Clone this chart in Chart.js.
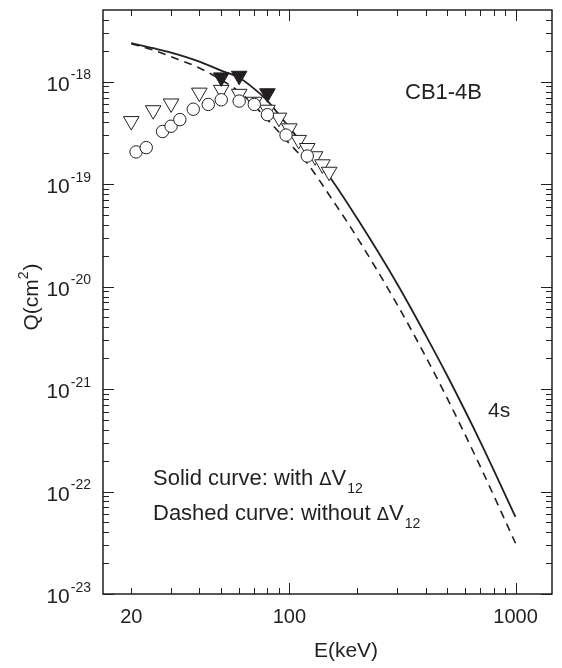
<!DOCTYPE html>
<html>
<head>
<meta charset="utf-8">
<script src="https://cdn.jsdelivr.net/npm/chart.js@4.4.1/dist/chart.umd.min.js"></script>
<style>
  html, body { margin: 0; padding: 0; background: #fff; }
  canvas { display: block; }
</style>
</head>
<body>
<canvas id="qChart" width="562" height="668"></canvas>
<script>
// theory curves, E in keV, Q in cm^2
const curveE = [20, 25, 30, 40, 50, 60, 70, 80, 100, 120, 150, 200, 300, 400, 500, 700, 1000];
const solidQ = [2.37e-18, 2.12e-18, 1.92e-18, 1.57e-18, 1.28e-18, 1.09e-18, 8.5e-19, 6.5e-19, 3.56e-19, 2.18e-19, 1.195e-19, 4.58e-20, 1.06e-20, 3.38e-21, 1.34e-21, 3.04e-22, 5.65e-23];
const dashedQ = [2.34e-18, 2.03e-18, 1.75e-18, 1.36e-18, 1.04e-18, 7.95e-19, 5.82e-19, 4.26e-19, 2.49e-19, 1.6e-19, 7.83e-20, 2.98e-20, 6.66e-21, 2.09e-21, 8.05e-22, 1.74e-22, 3.13e-23];

// experimental points
const openTriE = [20, 25, 30, 40, 50, 60, 70, 80, 90, 100, 110, 120, 130, 140, 150];
const openTriQ = [4.12e-19, 5.26e-19, 6.12e-19, 7.81e-19, 8.31e-19, 7.6e-19, 6.36e-19, 5.32e-19, 4.45e-19, 3.5e-19, 2.7e-19, 2.25e-19, 1.87e-19, 1.56e-19, 1.32e-19];
const filledTriE = [50, 60, 80];
const filledTriQ = [1.1e-18, 1.14e-18, 7.7e-19];
const circleE = [21, 23.3, 27.5, 30, 32.8, 37.6, 43.8, 50, 60, 70, 80, 96.7, 120];
const circleQ = [2.06e-19, 2.27e-19, 3.26e-19, 3.67e-19, 4.26e-19, 5.38e-19, 5.99e-19, 6.65e-19, 6.46e-19, 5.99e-19, 4.76e-19, 3.01e-19, 1.88e-19];

// axes
const xRange = [15, 1450];
const yRange = [1e-23, 5e-18];
const xMajorTicks = [100, 1000];
const xMinorTicks = [20, 30, 40, 50, 60, 70, 80, 90, 200, 300, 400, 500, 600, 700, 800, 900];
const xTickLabels = [20, 100, 1000];
const yExponents = [-23, -22, -21, -20, -19, -18];

const ink = '#231f20';
const fontFamily = '"Liberation Sans", Arial, sans-serif';

const pts = (xs, ys) => xs.map((e, i) => ({ x: e, y: ys[i] }));

// draws "base" with a superscript/subscript part, starting at x
function drawScript(ctx, x, y, base, baseSize, extra, extraSize, shift) {
    ctx.font = baseSize + 'px ' + fontFamily;
    ctx.fillText(base, x, y);
    const w = ctx.measureText(base).width;
    ctx.font = extraSize + 'px ' + fontFamily;
    ctx.fillText(extra, x + w + 1, y + shift);
    return w + 1 + ctx.measureText(extra).width;
}

const framePlugin = {
    id: 'frame',
    afterDatasetsDraw(chart) {
        const { ctx, chartArea: a, scales: { x, y } } = chart;
        ctx.save();
        ctx.strokeStyle = ink;
        ctx.fillStyle = ink;

        // box
        ctx.lineWidth = 1.5;
        ctx.strokeRect(a.left, a.top, a.right - a.left, a.bottom - a.top);

        const seg = (x1, y1, x2, y2) => {
            ctx.beginPath();
            ctx.moveTo(x1, y1);
            ctx.lineTo(x2, y2);
            ctx.stroke();
        };

        // x ticks, inward on bottom and top
        ctx.lineWidth = 1;
        xMajorTicks.forEach(v => {
            const px = Math.round(x.getPixelForValue(v)) + 0.5;
            seg(px, a.bottom, px, a.bottom - 11);
            seg(px, a.top, px, a.top + 11);
        });
        xMinorTicks.forEach(v => {
            const px = Math.round(x.getPixelForValue(v)) + 0.5;
            seg(px, a.bottom, px, a.bottom - 6);
            seg(px, a.top, px, a.top + 6);
        });

        // y ticks, inward on left and right
        yExponents.forEach(e => {
            const py = Math.round(y.getPixelForValue(Math.pow(10, e))) + 0.5;
            seg(a.left, py, a.left + 11, py);
            seg(a.right, py, a.right - 11, py);
            for (let m = 2; m <= 9; m++) {
                const v = m * Math.pow(10, e);
                if (v >= yRange[1]) break;
                const pm = Math.round(y.getPixelForValue(v)) + 0.5;
                seg(a.left, pm, a.left + 6, pm);
                seg(a.right, pm, a.right - 6, pm);
            }
        });

        // x tick labels
        ctx.textBaseline = 'alphabetic';
        ctx.textAlign = 'center';
        ctx.font = '20px ' + fontFamily;
        xTickLabels.forEach(v => {
            ctx.fillText(String(v), x.getPixelForValue(v), a.bottom + 29);
        });

        // y tick labels: 10^n
        ctx.textAlign = 'left';
        yExponents.forEach(e => {
            const py = y.getPixelForValue(Math.pow(10, e));
            ctx.font = '14px ' + fontFamily;
            const expW = ctx.measureText(String(e)).width;
            ctx.font = '21px ' + fontFamily;
            const baseW = ctx.measureText('10').width;
            const x0 = 91 - expW - 1 - baseW;
            drawScript(ctx, x0, py + 9, '10', 21, String(e), 14, -11.5);
        });

        // axis titles
        ctx.textAlign = 'center';
        ctx.font = '21px ' + fontFamily;
        ctx.fillText('E(keV)', 346, 657);

        ctx.save();
        ctx.translate(38, 297);
        ctx.rotate(-Math.PI / 2);
        ctx.textAlign = 'left';
        ctx.font = '21px ' + fontFamily;
        const qW = ctx.measureText('Q(cm').width;
        ctx.font = '14px ' + fontFamily;
        const sW = ctx.measureText('2').width;
        ctx.font = '21px ' + fontFamily;
        const pW = ctx.measureText(')').width;
        let tx = -(qW + sW + 1 + pW) / 2;
        ctx.fillText('Q(cm', tx, 0);
        ctx.font = '14px ' + fontFamily;
        ctx.fillText('2', tx + qW, -10);
        ctx.font = '21px ' + fontFamily;
        ctx.fillText(')', tx + qW + sW + 1, 0);
        ctx.restore();

        // annotations
        ctx.textAlign = 'left';
        ctx.font = '22px ' + fontFamily;
        ctx.fillText('CB1-4B', 405, 99);
        ctx.font = '21px ' + fontFamily;
        ctx.fillText('4s', 488, 417);

        const legendLine = (text, yb) => {
            ctx.font = '22px ' + fontFamily;
            ctx.fillText(text, 153, yb);
            let cx = 153 + ctx.measureText(text).width;
            ctx.font = '18px "DejaVu Sans", ' + fontFamily;
            ctx.fillText('\u0394', cx, yb);
            cx += ctx.measureText('\u0394').width;
            drawScript(ctx, cx, yb, 'V', 22, '12', 14, 8);
        };
        legendLine('Solid curve: with ', 485);
        legendLine('Dashed curve: without ', 520);

        ctx.restore();
    }
};

new Chart(document.getElementById('qChart'), {
    type: 'scatter',
    data: {
        datasets: [
            {
                label: 'circles',
                data: pts(circleE, circleQ),
                pointStyle: 'circle',
                pointRadius: 6.2,
                backgroundColor: '#fff',
                borderColor: ink,
                borderWidth: 1,
                order: 0
            },
            {
                label: 'filled triangles',
                data: pts(filledTriE, filledTriQ),
                pointStyle: 'triangle',
                pointRotation: 180,
                pointRadius: 9,
                backgroundColor: ink,
                borderColor: ink,
                borderWidth: 1,
                order: 1
            },
            {
                label: 'open triangles',
                data: pts(openTriE, openTriQ),
                pointStyle: 'triangle',
                pointRotation: 180,
                pointRadius: 9,
                backgroundColor: '#fff',
                borderColor: ink,
                borderWidth: 1,
                order: 2
            },
            {
                label: 'with dV12',
                data: pts(curveE, solidQ),
                showLine: true,
                pointRadius: 0,
                borderColor: ink,
                borderWidth: 1.8,
                cubicInterpolationMode: 'monotone',
                order: 3
            },
            {
                label: 'without dV12',
                data: pts(curveE, dashedQ),
                showLine: true,
                pointRadius: 0,
                borderColor: ink,
                borderWidth: 1.6,
                borderDash: [8, 6],
                cubicInterpolationMode: 'monotone',
                order: 4
            }
        ]
    },
    options: {
        responsive: false,
        animation: false,
        layout: { padding: { left: 103, right: 6, top: 6, bottom: 74 } },
        plugins: { legend: { display: false }, tooltip: { enabled: false } },
        scales: {
            x: { type: 'logarithmic', min: xRange[0], max: xRange[1], display: false },
            y: { type: 'logarithmic', min: yRange[0], max: yRange[1], display: false }
        }
    },
    plugins: [framePlugin]
});
</script>
</body>
</html>
